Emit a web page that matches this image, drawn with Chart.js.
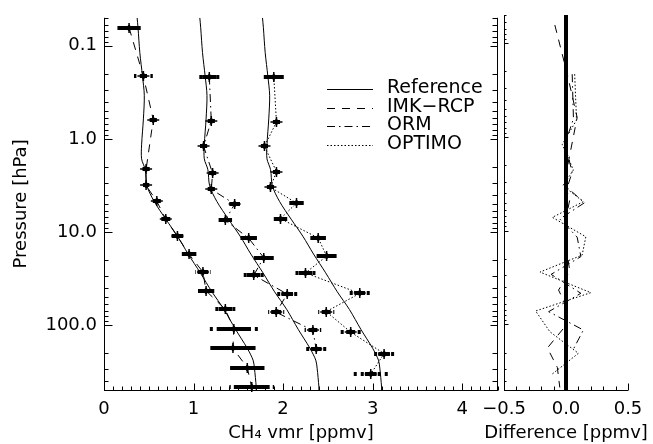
<!DOCTYPE html>
<html lang="en">
<head>
<meta charset="UTF-8">
<title>CH4 profiles and differences</title>
<script src="https://cdn.jsdelivr.net/npm/chart.js@4.4.1/dist/chart.umd.min.js"></script>
<style>
    body { margin: 0; background: #fff; }
    #wrap { position: relative; width: 653px; height: 444px; overflow: hidden; }
    #wrap canvas { position: absolute; top: 0; }
    #profiles { left: 0; }
    #diffs { left: 470px; }
</style>
</head>
<body>
<div id="wrap">
    <canvas id="profiles" width="500" height="444"></canvas>
    <canvas id="diffs" width="183" height="444"></canvas>
</div>
<script>
// axis ticks and labels
const pressureTicks = [0.1, 1, 10, 100];
const pressureLabels = ['0.1', '1.0', '10.0', '100.0'];
const vmrTicks = [0, 1, 2, 3, 4];
const vmrLabels = ['0', '1', '2', '3', '4'];
const diffTicks = [-0.5, 0, 0.5];
const diffLabels = ['\u22120.5', '0.0', '0.5'];

// each set of profiles is shifted to the right by this (ppmv)
const offsets = [0, 0.7, 1.4];

// reference profile
const refP   = [0.05, 0.064, 0.118, 0.213, 0.34, 0.61, 1.16, 1.64, 2.14, 3.2, 4.7, 7.3, 11.1, 17.3, 27.5, 44, 68, 112, 178, 239, 291, 464, 500];
const refCH4 = [0.37, 0.38, 0.40, 0.43, 0.45, 0.44, 0.42, 0.42, 0.46, 0.48, 0.56, 0.69, 0.82, 0.94, 1.075, 1.205, 1.34, 1.47, 1.60, 1.665, 1.68, 1.70, 1.70];

// IMK-RCP retrieval
const imkP      = [0.064, 0.213, 0.62, 2.13, 3.17, 4.7, 7.3, 11.2, 17.4, 27, 43, 68, 110, 178, 287, 470];
const imkCH4    = [0.28, 0.44, 0.55, 0.47, 0.47, 0.59, 0.69, 0.82, 0.95, 1.105, 1.14, 1.355, 1.45, 1.44, 1.60, 1.65];
const imkErr    = [0.13, 0.04, 0.04, 0.04, 0.035, 0.045, 0.05, 0.065, 0.08, 0.06, 0.09, 0.075, 0.19, 0.25, 0.19, 0.20];
const imkErrTot = [0.13, 0.105, 0.04, 0.04, 0.035, 0.045, 0.05, 0.065, 0.08, 0.085, 0.09, 0.125, 0.29, 0.25, 0.19, 0.25];

// ORM retrieval
const ormP      = [0.214, 0.64, 1.20, 2.35, 3.48, 5.02, 7.5, 11.7, 18.9, 29.2, 46.5, 73, 114.6, 183];
const ormCH4    = [0.476, 0.498, 0.412, 0.513, 0.498, 0.759, 0.655, 0.916, 1.084, 0.972, 1.346, 1.223, 1.633, 1.67];
const ormErr    = [0.08, 0.04, 0.04, 0.04, 0.04, 0.06, 0.075, 0.09, 0.09, 0.075, 0.065, 0.056, 0.05, 0.06];
const ormErrTot = [0.12, 0.04, 0.04, 0.04, 0.04, 0.06, 0.075, 0.09, 0.13, 0.12, 0.12, 0.09, 0.093, 0.12];

// OPTIMO retrieval
const optP      = [0.214, 0.66, 1.20, 2.25, 3.31, 4.9, 7.2, 11.6, 18.2, 27.6, 45.8, 71.8, 119.5, 203, 337];
const optCH4    = [0.496, 0.526, 0.392, 0.526, 0.459, 0.75, 0.571, 0.992, 1.086, 0.85, 1.456, 1.082, 1.355, 1.728, 1.579];
const optErr    = [0.10, 0.04, 0.04, 0.04, 0.04, 0.08, 0.075, 0.085, 0.09, 0.075, 0.06, 0.05, 0.05, 0.065, 0.065];
const optErrTot = [0.12, 0.04, 0.04, 0.04, 0.04, 0.08, 0.075, 0.085, 0.13, 0.12, 0.12, 0.09, 0.12, 0.125, 0.23];

// retrieval minus reference (ppmv)
const diffIMK = [-0.09, 0.01, 0.09, 0.01, -0.01, 0.03, 0.0, 0.0, 0.01, 0.03, -0.06, 0.015, -0.02, -0.15, -0.07, -0.05];
const diffORM = [0.05, 0.06, -0.01, 0.05, 0.01, 0.15, -0.05, 0.09, 0.12, -0.12, 0.12, -0.14, 0.14, 0.06];
const diffOPT = [0.07, 0.085, -0.03, 0.06, -0.025, 0.14, -0.11, 0.16, 0.13, -0.21, 0.2, -0.245, -0.13, 0.1, -0.11];
const zeroP = [0.05, 500];
const zeroDiff = [0, 0];

const legendNames = ['Reference', 'IMK\u2212RCP', 'ORM', 'OPTIMO'];
const dashes = [[], [8, 7], [8, 4, 1.5, 4], [1.5, 2]];

Chart.defaults.font.family = "'DejaVu Sans', sans-serif";
Chart.defaults.font.size = 18;
Chart.defaults.color = '#000';

function pts(xs, ps, shift) {
    return ps.map((p, i) => ({ x: xs[i] + shift, y: p }));
}

// axis lines with inward ticks (minor ticks too)
const axisFrame = {
    id: 'axisFrame',
    afterDraw(chart, args, o) {
        const { ctx, chartArea: a, scales: { x, y } } = chart;
        ctx.save();
        ctx.strokeStyle = '#000';
        ctx.lineWidth = 1;
        ctx.beginPath();
        o.sides.forEach(s => {
            const px = s.edge === 'left' ? a.left + 0.5 : a.right - 0.5;
            ctx.moveTo(px, a.top); ctx.lineTo(px, a.bottom + 1);
            for (let k = -2; k <= 3; k++) {
                for (let m = 1; m <= 9; m++) {
                    const v = m * Math.pow(10, k);
                    if (v < y.min * 0.999 || v > y.max * 1.001) continue;
                    const py = Math.round(y.getPixelForValue(v)) + 0.5;
                    ctx.moveTo(px, py);
                    ctx.lineTo(px + s.dir * (m === 1 ? s.major : s.minor), py);
                }
            }
        });
        const b = o.bottom;
        const by = a.bottom + 0.5;
        ctx.moveTo(a.left, by); ctx.lineTo(a.right, by);
        const n = Math.round((x.max - x.min) / b.step);
        for (let i = 0; i <= n; i++) {
            const v = x.min + i * b.step;
            const r = v / b.majorStep;
            const major = Math.abs(r - Math.round(r)) < 1e-6;
            const px = Math.round(x.getPixelForValue(v)) + 0.5;
            ctx.moveTo(px, by);
            ctx.lineTo(px, by - (major ? b.major : b.minor));
        }
        ctx.stroke();
        // x title drawn here so it is not squeezed to the plot width
        if (o.title) {
            ctx.font = "18px 'DejaVu Sans', sans-serif";
            ctx.fillStyle = '#000';
            ctx.textAlign = 'center';
            ctx.textBaseline = 'middle';
            ctx.fillText(o.title, (a.left + a.right) / 2, chart.height - 11);
        }
        ctx.restore();
    }
};

// horizontal error bars and star-like markers
const errorBars = {
    id: 'errorBars',
    afterDatasetsDraw(chart) {
        const { ctx, scales: { x } } = chart;
        chart.data.datasets.forEach((ds, i) => {
            if (!ds.errIn) return;
            const meta = chart.getDatasetMeta(i);
            meta.data.forEach((pt, j) => {
                const v = ds.data[j].x;
                const cx = pt.x, cy = Math.round(pt.y);
                ctx.save();
                ctx.strokeStyle = '#000';
                ctx.fillStyle = '#000';
                ctx.lineWidth = 4;
                ctx.setLineDash([3, 4]);
                ctx.beginPath();
                ctx.moveTo(cx, cy); ctx.lineTo(x.getPixelForValue(v - ds.errOut[j]), cy);
                ctx.moveTo(cx, cy); ctx.lineTo(x.getPixelForValue(v + ds.errOut[j]), cy);
                ctx.stroke();
                ctx.setLineDash([]);
                ctx.beginPath();
                ctx.moveTo(x.getPixelForValue(v - ds.errIn[j]), cy);
                ctx.lineTo(x.getPixelForValue(v + ds.errIn[j]), cy);
                ctx.stroke();
                ctx.lineWidth = 1.5;
                ctx.beginPath();
                ctx.moveTo(cx, cy - 5); ctx.lineTo(cx, cy + 5);
                ctx.moveTo(cx - 6, cy); ctx.lineTo(cx + 6, cy);
                ctx.stroke();
                ctx.beginPath();
                ctx.moveTo(cx, cy - 3.5); ctx.lineTo(cx + 3.5, cy);
                ctx.lineTo(cx, cy + 3.5); ctx.lineTo(cx - 3.5, cy);
                ctx.closePath();
                ctx.fill();
                ctx.restore();
            });
        });
    }
};

const legendBox = {
    id: 'legendBox',
    afterDraw(chart, args, o) {
        const ctx = chart.ctx;
        ctx.save();
        ctx.font = "19px 'DejaVu Sans', sans-serif";
        ctx.fillStyle = '#000';
        ctx.strokeStyle = '#000';
        ctx.lineWidth = 1;
        ctx.textBaseline = 'middle';
        legendNames.forEach((name, i) => {
            const yy = Math.round(o.top + i * o.gap) + 0.5;
            ctx.setLineDash(dashes[i]);
            ctx.beginPath();
            ctx.moveTo(o.x0, yy); ctx.lineTo(o.x1, yy);
            ctx.stroke();
            ctx.fillText(name, o.textX, yy - 1);
        });
        ctx.restore();
    }
};

const retrievals = [
    { p: imkP, v: imkCH4, e: imkErr, et: imkErrTot },
    { p: ormP, v: ormCH4, e: ormErr, et: ormErrTot },
    { p: optP, v: optCH4, e: optErr, et: optErrTot }
];

const profileSets = [];
retrievals.forEach((r, g) => {
    profileSets.push({
        data: pts(refCH4, refP, offsets[g]),
        borderColor: '#000', borderWidth: 1, showLine: true,
        pointRadius: 0, tension: 0.3
    });
    profileSets.push({
        data: pts(r.v, r.p, offsets[g]),
        borderColor: '#000', borderWidth: 1, borderDash: dashes[g + 1],
        showLine: true, pointRadius: 0, tension: 0,
        errIn: r.e, errOut: r.et
    });
});

function fixTicks(values) {
    return function (scale) { scale.ticks = values.map(v => ({ value: v })); };
}

new Chart(document.getElementById('profiles'), {
    type: 'scatter',
    data: { datasets: profileSets },
    options: {
        responsive: false, animation: false, events: [],
        layout: { padding: { top: 15, right: 2, left: 0, bottom: 0 } },
        plugins: {
            legend: { display: false }, tooltip: { enabled: false },
            axisFrame: {
                sides: [{ edge: 'left', major: 8, minor: 4, dir: 1 }, { edge: 'right', major: 7, minor: 5, dir: -1 }],
                bottom: { step: 0.1, majorStep: 1, major: 7, minor: 4 },
                title: 'CH\u2084 vmr [ppmv]'
            },
            legendBox: { x0: 327, x1: 373, textX: 387, top: 89, gap: 18.5 }
        },
        scales: {
            x: {
                type: 'linear', min: 0, max: 4.4,
                grid: { display: false, drawTicks: false }, border: { display: false },
                afterBuildTicks: fixTicks(vmrTicks),
                afterFit(s) { s.height = 54; },
                ticks: { padding: 9, maxRotation: 0, autoSkip: false, callback: (v, i) => vmrLabels[i] }
            },
            y: {
                type: 'logarithmic', min: 0.05, max: 500, reverse: true,
                grid: { display: false, drawTicks: false }, border: { display: false },
                afterBuildTicks: fixTicks(pressureTicks),
                afterFit(s) { s.width = 104; },
                ticks: { padding: 7, autoSkip: false, callback: (v, i) => pressureLabels[i] },
                title: { display: true, text: 'Pressure [hPa]', padding: { top: 11, bottom: 0 } }
            }
        }
    },
    plugins: [axisFrame, errorBars, legendBox]
});

new Chart(document.getElementById('diffs'), {
    type: 'scatter',
    data: {
        datasets: [
            { data: pts(zeroDiff, zeroP, 0), borderColor: '#000', borderWidth: 4, showLine: true, pointRadius: 0 },
            { data: pts(diffIMK, imkP, 0), borderColor: '#000', borderWidth: 1, borderDash: dashes[1], showLine: true, pointRadius: 0 },
            { data: pts(diffORM, ormP, 0), borderColor: '#000', borderWidth: 1, borderDash: dashes[2], showLine: true, pointRadius: 0 },
            { data: pts(diffOPT, optP, 0), borderColor: '#000', borderWidth: 1, borderDash: dashes[3], showLine: true, pointRadius: 0 }
        ]
    },
    options: {
        responsive: false, animation: false, events: [],
        layout: { padding: { top: 15, right: 25, left: 34, bottom: 0 } },
        plugins: {
            legend: { display: false }, tooltip: { enabled: false },
            axisFrame: {
                sides: [{ edge: 'left', major: 4, minor: 2, dir: 1 }],
                bottom: { step: 0.1, majorStep: 0.5, major: 7, minor: 4 },
                title: 'Difference [ppmv]'
            }
        },
        scales: {
            x: {
                type: 'linear', min: -0.5, max: 0.5,
                grid: { display: false, drawTicks: false }, border: { display: false },
                afterBuildTicks: fixTicks(diffTicks),
                afterFit(s) { s.height = 54; },
                ticks: { padding: 9, maxRotation: 0, autoSkip: false, callback: (v, i) => diffLabels[i] }
            },
            y: {
                type: 'logarithmic', min: 0.05, max: 500, reverse: true, display: false
            }
        }
    },
    plugins: [axisFrame]
});
</script>
</body>
</html>
